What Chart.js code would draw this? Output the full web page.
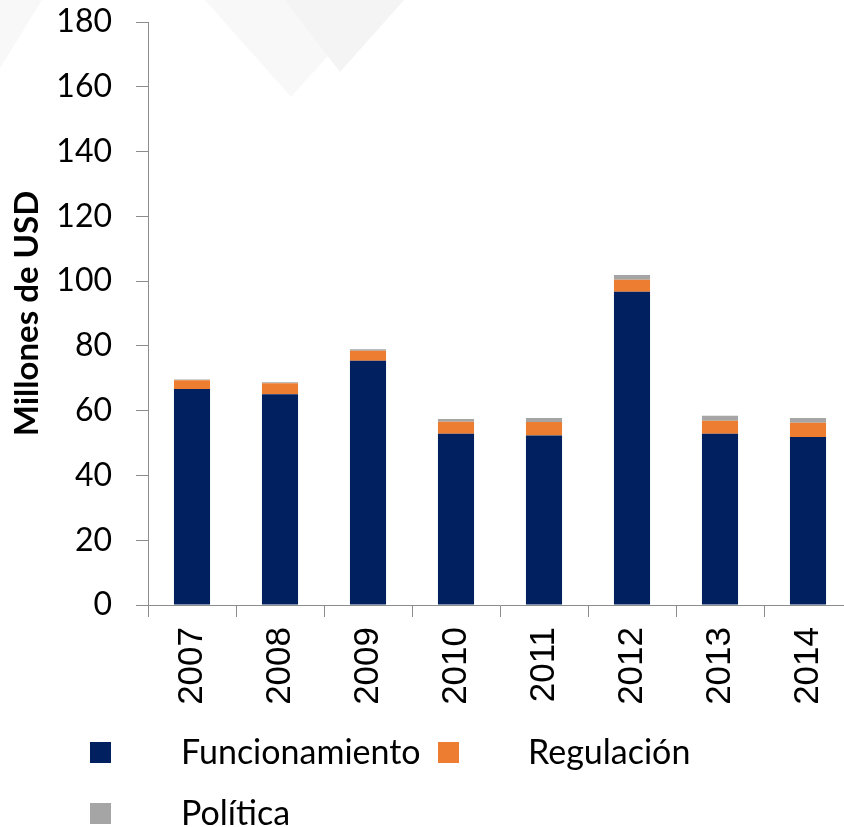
<!DOCTYPE html>
<html>
<head>
<meta charset="utf-8">
<script src="https://cdn.jsdelivr.net/npm/chart.js@4.4.1/dist/chart.umd.min.js"></script>
<style>
html,body{margin:0;padding:0;background:#fff;overflow:hidden;}
#wrap{position:relative;width:852px;height:827px;}
</style>
</head>
<body>
<div id="wrap"><canvas id="c" width="852" height="827"></canvas></div>
<script>
const categories = ["2007","2008","2009","2010","2011","2012","2013","2014"];
const funcionamiento = [66.7, 65.1, 75.4, 52.9, 52.3, 96.7, 52.9, 51.9];
const regulacion = [2.7, 3.4, 3.1, 3.7, 4.2, 3.7, 4.0, 4.4];
const politica = [0.2, 0.3, 0.5, 0.8, 1.2, 1.5, 1.5, 1.4];
const seriesLabels = ["Funcionamiento", "Regulación", "Política"];
const yTitle = "Millones de USD";

const axisColor = "#8c8c8c";

const bgPlugin = {
  id: "bg",
  beforeDraw(chart) {
    const ctx = chart.ctx;
    ctx.save();
    ctx.fillStyle = "#fff";
    ctx.fillRect(0, 0, chart.width, chart.height);
    const polys = [
      {c: "#f8f8f8", p: [[0,0],[42,0],[0,68]]},
      {c: "#f8f8f8", p: [[205,0],[378,0],[291,97]]},
      {c: "#f4f4f4", p: [[285,0],[404,0],[340,72]]}
    ];
    polys.forEach(o => {
      ctx.fillStyle = o.c;
      ctx.beginPath();
      o.p.forEach((pt, i) => i ? ctx.lineTo(pt[0], pt[1]) : ctx.moveTo(pt[0], pt[1]));
      ctx.closePath();
      ctx.fill();
    });
    ctx.restore();
  }
};

const legendPlugin = {
  id: "customLegend",
  afterDraw(chart) {
    const ctx = chart.ctx;
    const items = [
      {sx: 90, sy: 742, tx: 181},
      {sx: 438, sy: 742, tx: 528},
      {sx: 90, sy: 803, tx: 181}
    ];
    ctx.save();
    ctx.font = "34px Lato";
    ctx.textBaseline = "middle";
    chart.data.datasets.forEach((ds, i) => {
      const it = items[i];
      ctx.fillStyle = ds.backgroundColor;
      ctx.fillRect(it.sx, it.sy, 21, 21);
      ctx.fillStyle = "#000";
      ctx.fillText(ds.label, it.tx, it.sy + 11);
    });
    ctx.restore();
  }
};

new Chart(document.getElementById("c"), {
  type: "bar",
  data: {
    labels: categories,
    datasets: [
      {label: seriesLabels[0], data: funcionamiento, backgroundColor: "#002060"},
      {label: seriesLabels[1], data: regulacion, backgroundColor: "#ED7D31"},
      {label: seriesLabels[2], data: politica, backgroundColor: "#A5A5A5"}
    ]
  },
  options: {
    responsive: false,
    animation: false,
    layout: {padding: {top: 22, left: 0, right: 0, bottom: 0}},
    datasets: {bar: {barPercentage: 0.41, categoryPercentage: 1.0}},
    plugins: {legend: {display: false}, tooltip: {enabled: false}},
    scales: {
      x: {
        stacked: true,
        afterFit(s) { s.height = 222; s.paddingLeft = 0; s.paddingRight = 0; },
        grid: {offset: true, drawOnChartArea: false, drawTicks: true, tickLength: 12, color: axisColor},
        border: {color: axisColor, width: 1},
        ticks: {maxRotation: 90, minRotation: 90, padding: 10, color: "#000",
                font: {family: "Liberation Sans", size: 35}}
      },
      y: {
        stacked: true,
        min: 0, max: 180,
        afterFit(s) { s.width = 148; s.paddingTop = 0; s.paddingBottom = 0; },
        grid: {drawOnChartArea: false, drawTicks: true, tickLength: 12, color: axisColor},
        border: {color: axisColor, width: 1},
        ticks: {stepSize: 20, padding: 24, color: "#000", font: {family: "Lato", size: 32}},
        title: {display: true, text: yTitle, color: "#000", padding: {top: 8, bottom: 0},
                font: {family: "Lato", size: 33, weight: "bold"}}
      }
    }
  },
  plugins: [bgPlugin, legendPlugin]
});
</script>
</body>
</html>
